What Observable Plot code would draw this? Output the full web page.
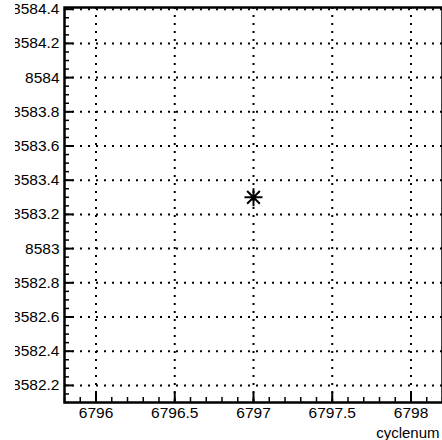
<!DOCTYPE html>
<html>
<head>
<meta charset="utf-8">
<script src="https://cdn.jsdelivr.net/npm/d3@7"></script>
<script src="https://cdn.jsdelivr.net/npm/@observablehq/plot@0.6"></script>
<style>
  html, body { margin: 0; padding: 0; background: white; overflow: hidden; }
  #chart { width: 442px; height: 440px; clip-path: inset(0 0 0 15px); }
  #chart svg { display: block; }
</style>
</head>
<body>
<div id="chart"></div>
<script>
const cyclenum = [6797];
const values = [8583.3];
const xTicks = [6796, 6796.5, 6797, 6797.5, 6798];
const yTicks = [8582.2, 8582.4, 8582.6, 8582.8, 8583, 8583.2, 8583.4, 8583.6, 8583.8, 8584, 8584.2, 8584.4];
const xDomain = [6795.8, 6798.2];
const yDomain = [8582.1, 8584.41];
const xLabel = "cyclenum";

const xMinor = d3.range(Math.round(xDomain[0] * 10), Math.round(xDomain[1] * 10) + 1).map(d => d / 10);
const yMinor = d3.range(Math.round(yDomain[0] * 20), Math.round(yDomain[1] * 20) + 1).map(d => d / 20);

const points = cyclenum.map((x, i) => ({x, y: values[i]}));

const asterisk = {
  draw(context, size) {
    const r = Math.sqrt(size / Math.PI);
    const d = r * Math.SQRT1_2;
    context.moveTo(-r, 0); context.lineTo(r, 0);
    context.moveTo(0, -r); context.lineTo(0, r);
    context.moveTo(-d, -d); context.lineTo(d, d);
    context.moveTo(-d, d); context.lineTo(d, -d);
  }
};

const fmt = d => String(+d.toFixed(1));
const font = "'Liberation Sans', Arial, Helvetica, sans-serif";
const dotted = {stroke: "black", strokeOpacity: 1, strokeWidth: 2, strokeDasharray: "2,6"};

const chart = Plot.plot({
  width: 442,
  height: 440,
  marginLeft: 64,
  marginRight: 0,
  marginTop: 7,
  marginBottom: 38,
  style: {fontFamily: font, fontSize: "15.5px", background: "white", overflow: "hidden"},
  x: {domain: xDomain},
  y: {domain: yDomain},
  marks: [
    Plot.gridY(yTicks, dotted),
    Plot.gridX(xTicks, dotted),
    Plot.axisY(yMinor, {tickSize: -5, tickFormat: () => "", label: null, strokeWidth: 1.5}),
    Plot.axisY(yTicks, {tickSize: -9, tickFormat: () => "", label: null, strokeWidth: 2}),
    Plot.axisY(yTicks, {tickSize: 0, tickPadding: 5, tickFormat: fmt, label: null, fontSize: 15.5}),
    Plot.axisX(xMinor, {tickSize: -5, tickFormat: () => "", label: null, strokeWidth: 1.5}),
    Plot.axisX(xTicks, {tickSize: -10, tickFormat: () => "", label: null, strokeWidth: 2}),
    Plot.axisX(xTicks, {tickSize: 0, tickPadding: 4, tickFormat: fmt, fontSize: 15.5, label: null}),
    Plot.axisX([], {tickSize: 0, tickFormat: () => "", fontSize: 15,
      label: xLabel, labelAnchor: "right", labelArrow: "none", labelOffset: 35, dx: -1}),
    Plot.frame({stroke: "black", strokeWidth: 2.5}),
    Plot.dot(points, {x: "x", y: "y", symbol: asterisk, r: 9, stroke: "black", strokeWidth: 2})
  ]
});
document.getElementById("chart").append(chart);
</script>
</body>
</html>
